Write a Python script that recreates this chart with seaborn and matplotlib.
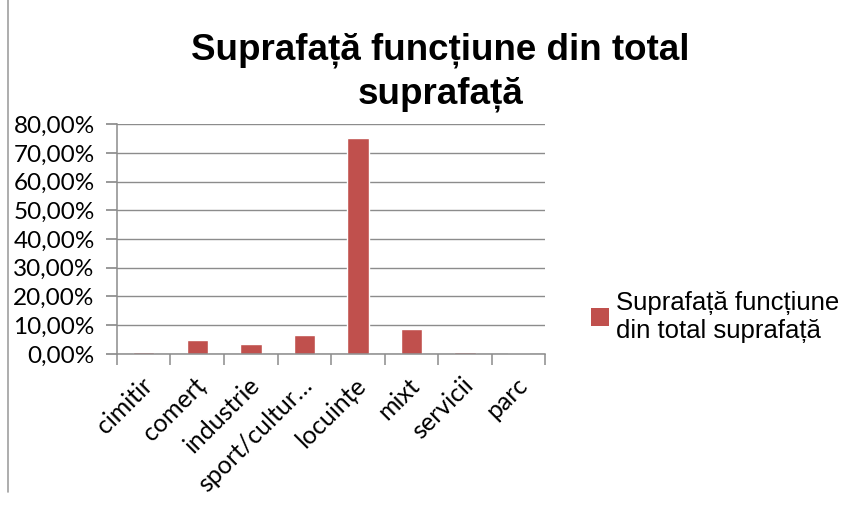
import matplotlib
matplotlib.use("Agg")
import matplotlib.pyplot as plt
import matplotlib.transforms as mtransforms
import seaborn as sns
import pandas as pd
import numpy as np
from matplotlib.ticker import FuncFormatter, FixedLocator
from matplotlib.patches import Patch
from matplotlib.lines import Line2D

# data
categories = ["cimitir", "comerț", "industrie", "sport/cultur…", "locuințe", "mixt", "servicii", "parc"]
values = [0.6, 4.8, 3.3, 6.5, 75.3, 8.6, 0.6, 0.3]
series_name = "Suprafață funcțiune din total suprafață"

df = pd.DataFrame({"functiune": categories, "procent": values})

sns.set_theme(style="white")
plt.rcParams["font.family"] = ["Liberation Sans", "DejaVu Sans"]
plt.rcParams["text.color"] = "black"

fig = plt.figure(figsize=(8.6, 5.07), dpi=100)
ax = fig.add_axes([0.136, 0.302, 0.498, 0.453])

bar_color = "#C0504D"
sns.barplot(data=df, x="functiune", y="procent", color=bar_color, width=0.4,
            saturation=1, ax=ax)

ax.set_ylim(0, 80)
ax.set_xlim(-0.5, len(categories) - 0.5)
ax.set_yticks(np.arange(0, 81, 10))
ax.yaxis.set_major_formatter(FuncFormatter(lambda v, p: f"{v:.2f}%".replace(".", ",")))
ax.yaxis.grid(True, color="#8c8c8c", linewidth=1)
ax.set_axisbelow(True)
ax.set_xlabel("")
ax.set_ylabel("")

for s in ["top", "right"]:
    ax.spines[s].set_visible(False)
for s in ["left", "bottom"]:
    ax.spines[s].set_color("#8c8c8c")
    ax.spines[s].set_linewidth(1.1)

tick_font = ["Lato", "DejaVu Sans"]
ax.tick_params(axis="y", which="major", left=True, length=8, color="#8c8c8c",
               labelsize=17.5, pad=8, labelcolor="black")
ax.set_xticks(range(len(categories)))
ax.set_xticklabels(categories, rotation=45, ha="right", rotation_mode="anchor")
ax.tick_params(axis="x", which="major", bottom=False, length=0, labelsize=18,
               pad=14, labelcolor="black")
shift = mtransforms.ScaledTranslation(-2.5 / 72, 0, fig.dpi_scale_trans)
for lbl in ax.get_xticklabels():
    lbl.set_family(tick_font)
    lbl.set_transform(lbl.get_transform() + shift)
for lbl in ax.get_yticklabels():
    lbl.set_family(tick_font)
ax.xaxis.set_minor_locator(FixedLocator(np.arange(-0.5, len(categories), 1.0)))
ax.tick_params(axis="x", which="minor", bottom=True, length=8, color="#8c8c8c", width=1.1)

fig.text(0.512, 0.935, "Suprafață funcțiune din total\nsuprafață", ha="center", va="top",
         fontsize=26.5, fontweight="bold", linespacing=1.3, color="black")

handles = [Patch(facecolor=bar_color, edgecolor="none")]
fig.legend(handles, ["Suprafață funcțiune\ndin total suprafață"], loc="center left",
           bbox_to_anchor=(0.672, 0.375), frameon=False, fontsize=18.5,
           handlelength=0.7, handleheight=0.7, handletextpad=0.3, borderpad=0,
           labelcolor="black")

# left border of the chart frame
fig.add_artist(Line2D([0.009, 0.009], [0.03, 1.0], color="#a0a0a0", linewidth=1.2,
                      transform=fig.transFigure))

fig.savefig("out.png", dpi=100)
